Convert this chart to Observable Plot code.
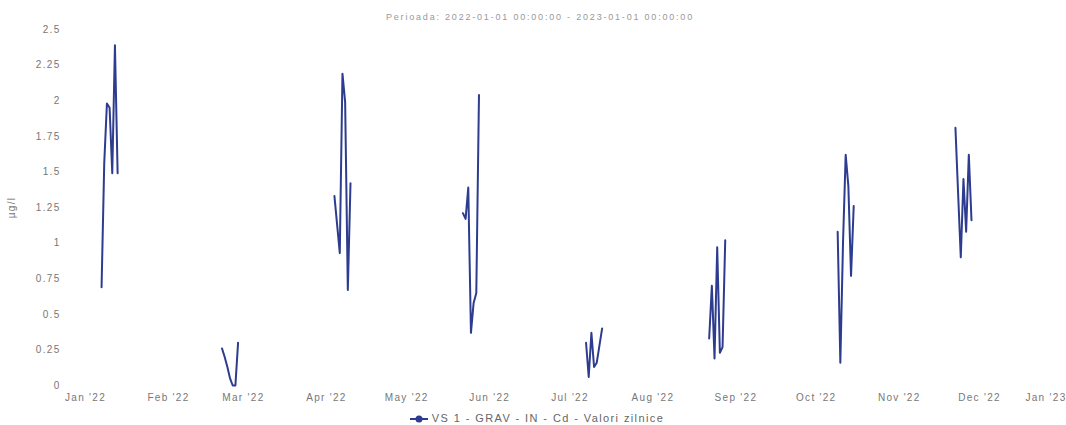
<!DOCTYPE html>
<html><head><meta charset="utf-8">
<script src="https://cdn.jsdelivr.net/npm/d3@7"></script>
<script src="https://cdn.jsdelivr.net/npm/@observablehq/plot@0.6"></script>
<style>
body{margin:0;background:#fff;font-family:"Liberation Sans",Arial,sans-serif;}
#wrap{position:relative;width:1066px;height:425px;overflow:hidden;background:#fff;}
#sub{position:absolute;top:12px;left:0;width:1080px;text-align:center;font-size:9px;letter-spacing:1.8px;color:#999;z-index:2;}
#chart{position:absolute;top:0;left:0;z-index:1;}
#legend{position:absolute;top:412px;left:0;width:1074px;text-align:center;font-size:11px;letter-spacing:1.4px;color:#666;z-index:2;}
#legend svg{vertical-align:middle;margin-right:4px;}
</style>
</head><body>
<div id="wrap">
<div id="sub">Perioada: 2022-01-01 00:00:00 - 2023-01-01 00:00:00</div>
<div id="chart"></div>
<div id="legend"></div>
</div>
<script>
const seriesName = "VS 1 - GRAV - IN - Cd - Valori zilnice";
const yLabel = "µg/l";
const yTicks = [0, 0.25, 0.5, 0.75, 1, 1.25, 1.5, 1.75, 2, 2.25, 2.5];
// daily values; null marks a gap in the record
const dates = [
  "2022-01-07","2022-01-08","2022-01-09","2022-01-10","2022-01-11","2022-01-12","2022-01-13","2022-01-14",
  "2022-02-21","2022-02-22","2022-02-23","2022-02-24","2022-02-25","2022-02-26","2022-02-27","2022-02-28",
  "2022-04-04","2022-04-05","2022-04-06","2022-04-07","2022-04-08","2022-04-09","2022-04-10","2022-04-11",
  "2022-05-22","2022-05-23","2022-05-24","2022-05-25","2022-05-26","2022-05-27","2022-05-28","2022-05-29",
  "2022-07-07","2022-07-08","2022-07-09","2022-07-10","2022-07-11","2022-07-12","2022-07-13","2022-07-14",
  "2022-08-22","2022-08-23","2022-08-24","2022-08-25","2022-08-26","2022-08-27","2022-08-28","2022-08-29",
  "2022-10-09","2022-10-10","2022-10-11","2022-10-12","2022-10-13","2022-10-14","2022-10-15","2022-10-16",
  "2022-11-22","2022-11-23","2022-11-24","2022-11-25","2022-11-26","2022-11-27","2022-11-28"
];
const values = [
  0.69, 1.56, 1.98, 1.95, 1.49, 2.39, 1.49, null,
  0.26, 0.20, 0.13, 0.05, 0.00, 0.00, 0.30, null,
  1.33, 1.13, 0.93, 2.19, 1.99, 0.67, 1.42, null,
  1.21, 1.17, 1.39, 0.37, 0.58, 0.65, 2.04, null,
  0.30, 0.06, 0.37, 0.13, 0.16, 0.28, 0.40, null,
  0.33, 0.70, 0.19, 0.97, 0.23, 0.27, 1.02, null,
  1.08, 0.16, 1.00, 1.62, 1.40, 0.77, 1.26, null,
  1.81, 1.35, 0.90, 1.45, 1.08, 1.62, 1.16
];
const data = dates.map((d, i) => ({date: new Date(d + "T00:00:00Z"), value: values[i]}));
const color = "#2d3c8e";
const fmtMonth = d3.utcFormat("%b '%y");

const chart = Plot.plot({
  width: 1066,
  height: 405,
  marginTop: 29,
  marginBottom: 20,
  marginLeft: 85,
  marginRight: 4,
  style: {fontFamily: "Liberation Sans, Arial, sans-serif", fontSize: "10px", letterSpacing: "1.3px", color: "#777", background: "transparent"},
  x: {type: "utc", domain: [new Date("2022-01-01T00:00:00Z"), new Date("2023-01-01T00:00:00Z")]},
  y: {domain: [0, 2.5]},
  marks: [
    Plot.axisX({ticks: d3.utcMonth.every(1), tickFormat: fmtMonth, tickSize: 0, tickPadding: 8, label: null, fill: "#777"}),
    Plot.axisY({ticks: yTicks, tickFormat: d => String(d), tickSize: 0, tickPadding: 25, label: yLabel, labelAnchor: "center", labelArrow: "none", labelOffset: 78, fill: "#777"}),
    Plot.line(data, {x: "date", y: "value", stroke: color, strokeWidth: 2, strokeLinejoin: "round"})
  ]
});
document.getElementById("chart").appendChild(chart);
// justify last x tick label inside the plot like the source
const xt = chart.querySelectorAll('[aria-label="x-axis tick label"] text');
if (xt.length) { const last = xt[xt.length - 1]; last.setAttribute("text-anchor", "end"); last.setAttribute("dx", "4"); }

// legend
const lg = document.getElementById("legend");
lg.innerHTML = `<svg width="18" height="8"><line x1="0" y1="4" x2="18" y2="4" stroke="${color}" stroke-width="2"/><circle cx="9" cy="4" r="3.5" fill="${color}"/></svg>` + seriesName;
</script>
</body></html>
